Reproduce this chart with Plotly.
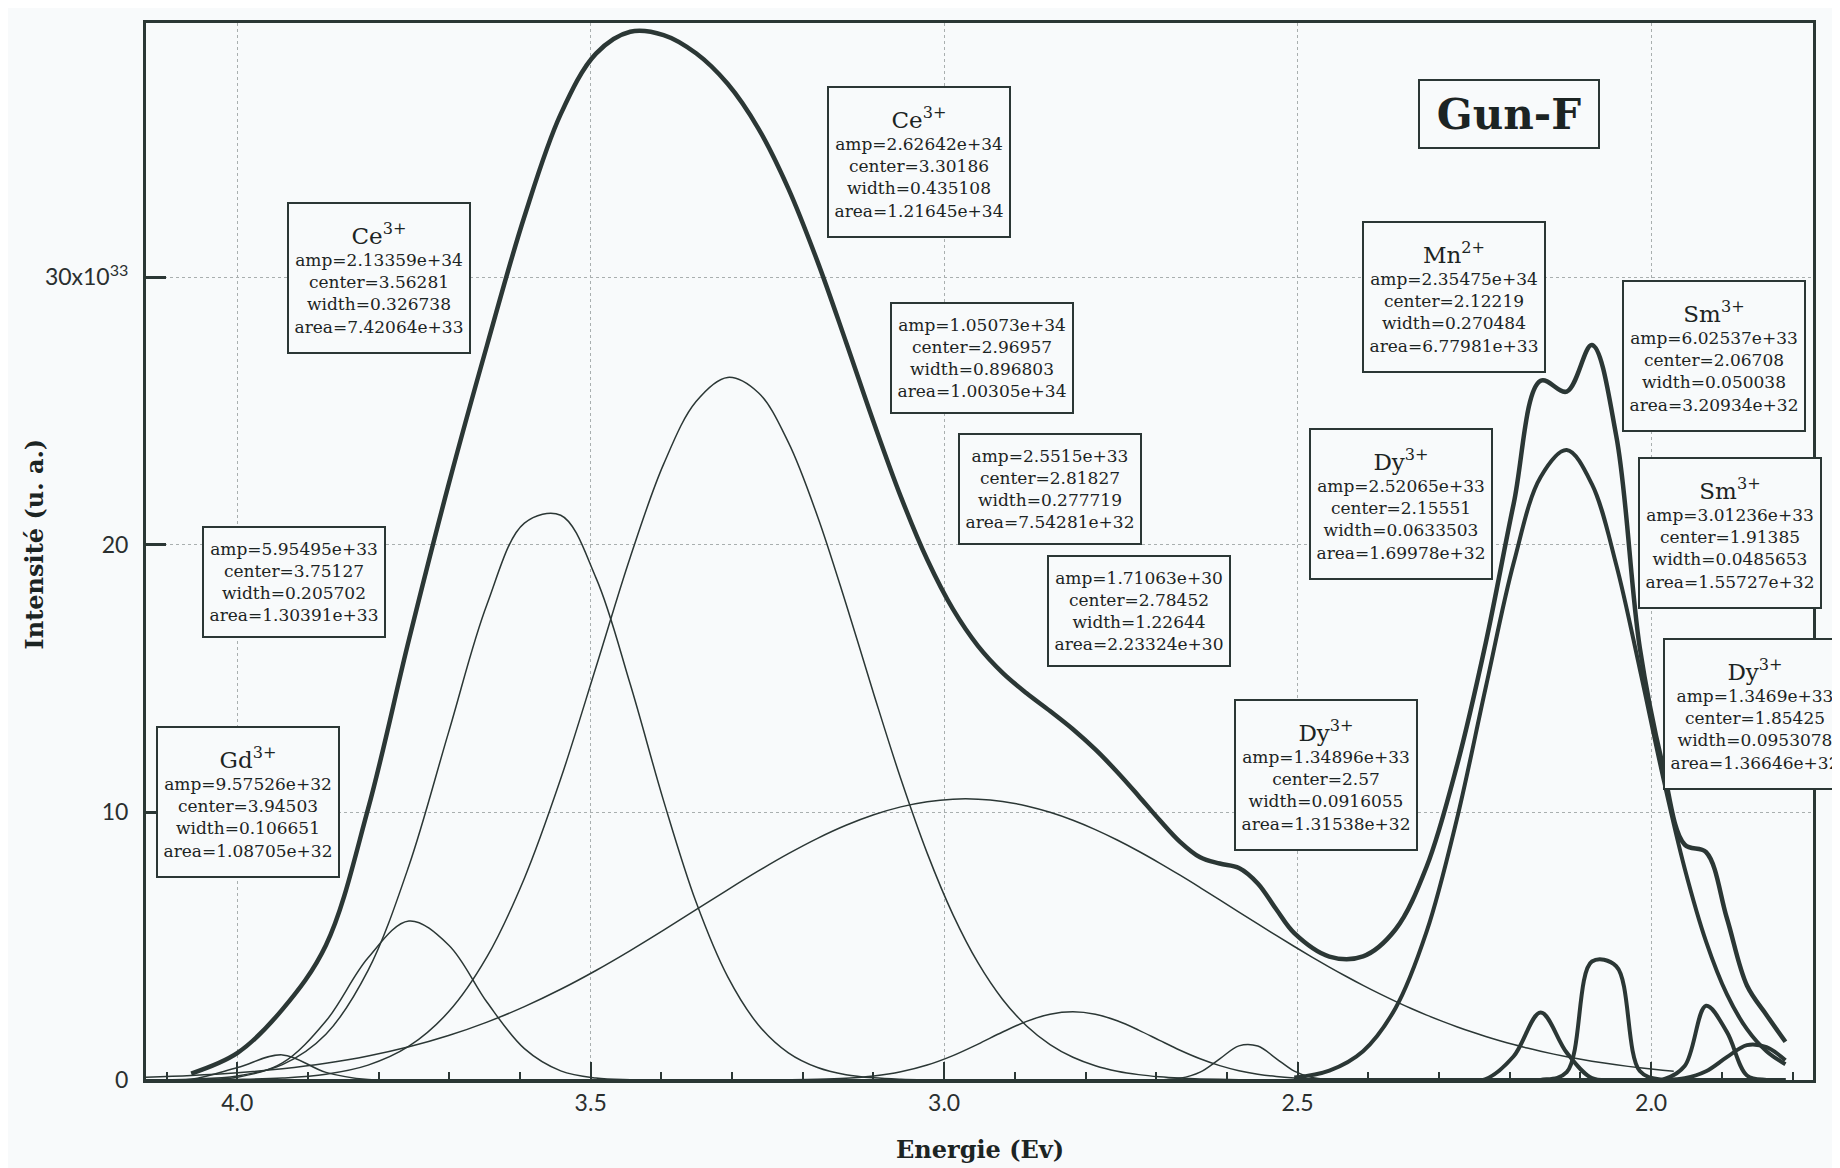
import numpy as np
import plotly.graph_objects as go

# gaussian components of the fit (width = FWHM), values as printed in the boxes
ions = ["Gd", "", "Ce", "Ce", "", "", "", "Dy", "Mn", "Dy", "Sm", "Sm", "Dy"]
charges = ["3+", "", "3+", "3+", "", "", "", "3+", "2+", "3+", "3+", "3+", "3+"]
amp = [9.57526e32, 5.95495e33, 2.13359e34, 2.62642e34, 1.05073e34, 2.5515e33, 1.71063e30,
       1.34896e33, 2.35475e34, 2.52065e33, 6.02537e33, 3.01236e33, 1.3469e33]
center = [3.94503, 3.75127, 3.56281, 3.30186, 2.96957, 2.81827, 2.78452,
          2.57, 2.12219, 2.15551, 2.06708, 1.91385, 1.85425]
width = [0.106651, 0.205702, 0.326738, 0.435108, 0.896803, 0.277719, 1.22644,
         0.0916055, 0.270484, 0.0633503, 0.050038, 0.0485653, 0.0953078]
area = [1.08705e32, 1.30391e33, 7.42064e33, 1.21645e34, 1.00305e34, 7.54281e32, 2.23324e30,
        1.31538e32, 6.77981e33, 1.69978e32, 3.20934e32, 1.55727e32, 1.36646e32]
right_fit = [False] * 8 + [True] * 5

# spectrometer sampling (nm): uv-blue part at 5 nm, red part at 10 nm
wl_left = np.arange(300, 631, 5)
wl_right = np.arange(495, 686, 10)
wl_total = np.concatenate([np.arange(305, 495, 5), wl_right])

y_ticks = [0, 1e34, 2e34, 3e34]
y_ticktext = ["0", "10", "20", "30x10<sup>33</sup>"]

INK = "#2b3735"
TXT = "#1c2423"
BG = "#f8fafb"


def gauss(e, a, c, w):
    return a * np.exp(-4 * np.log(2) * (e - c) ** 2 / w ** 2)


fig = go.Figure()

for i in range(len(amp)):
    wl = wl_right if right_fit[i] else wl_left
    e = 1239.84 / wl
    fig.add_trace(go.Scatter(x=e, y=gauss(e, amp[i], center[i], width[i]), mode="lines",
                             line=dict(color=INK, width=4 if right_fit[i] else 1.5,
                                       shape="spline", smoothing=1),
                             showlegend=False))

e_tot = 1239.84 / wl_total
total = sum(gauss(e_tot, amp[i], center[i], width[i]) for i in range(len(amp)))
fig.add_trace(go.Scatter(x=e_tot, y=total, mode="lines",
                         line=dict(color=INK, width=4.5, shape="spline", smoothing=1),
                         showlegend=False))

# box centres in paper coords, same order as the components
box_pos = [(0.0609, 0.2632), (0.0888, 0.4708), (0.1395, 0.7585), (0.4637, 0.8689),
           (0.5015, 0.6830), (0.5423, 0.5594), (0.5957, 0.4434), (0.7076, 0.2882),
           (0.7846, 0.7406), (0.7528, 0.5453), (0.9406, 0.6849), (0.9500, 0.5179),
           (0.9650, 0.3462)]

for i, (bx, by) in enumerate(box_pos):
    lines = ["amp=%.6g" % amp[i], "center=%.6g" % center[i],
             "width=%.6g" % width[i], "area=%.6g" % area[i]]
    txt = "<br>".join(lines)
    h = 108
    if ions[i]:
        txt = "<span style='font-size:23px'>%s<sup>%s</sup></span><br>" % (ions[i], charges[i]) + txt
        h = 148
    fig.add_annotation(x=bx, y=by, xref="paper", yref="paper", text=txt, showarrow=False,
                       xanchor="center", yanchor="middle", width=180, height=h,
                       align="center", valign="middle",
                       font=dict(family="DejaVu Serif", size=17, color=TXT),
                       bgcolor=BG, bordercolor=INK, borderwidth=2, borderpad=0)

fig.add_annotation(x=0.8176, y=0.9142, xref="paper", yref="paper", text="<b>Gun-F</b>",
                   showarrow=False, xanchor="center", yanchor="middle", width=178, height=66,
                   font=dict(family="DejaVu Serif", size=42, color=TXT),
                   bgcolor=BG, bordercolor=INK, borderwidth=2, borderpad=0)

fig.add_annotation(x=-0.067, y=0.507, xref="paper", yref="paper", text="<b>Intensité (u. a.)</b>",
                   textangle=-90, showarrow=False, xanchor="center", yanchor="middle",
                   font=dict(family="DejaVu Serif", size=24, color=TXT))
fig.add_annotation(x=0.5, y=-0.066, xref="paper", yref="paper", text="<b>Energie (Ev)</b>",
                   showarrow=False, xanchor="center", yanchor="middle",
                   font=dict(family="DejaVu Serif", size=24, color=TXT))

fig.update_xaxes(range=[4.129, 1.771], tickmode="linear", tick0=2.0, dtick=0.5,
                 tickformat=".1f", ticks="inside", ticklen=18, tickwidth=2, tickcolor=INK,
                 minor=dict(dtick=0.1, tick0=2.0, ticks="inside", ticklen=8, tickwidth=1.5,
                            tickcolor=INK, showgrid=False),
                 showgrid=True, gridcolor="#a9afaf", griddash="dot", gridwidth=1,
                 showline=True, linecolor=INK, linewidth=3, mirror=True, zeroline=False,
                 ticklabelstandoff=0,
                 tickfont=dict(family="Lato", size=23, color="#2a2f2f"))
fig.update_yaxes(range=[0, 3.95e34], tickvals=y_ticks, ticktext=y_ticktext,
                 ticks="inside", ticklen=20, tickwidth=2.5, tickcolor=INK,
                 showgrid=True, gridcolor="#a9afaf", griddash="dot", gridwidth=1,
                 showline=True, linecolor=INK, linewidth=3, mirror=True, zeroline=False,
                 ticklabelstandoff=10,
                 tickfont=dict(family="Lato", size=23, color="#2a2f2f"))

fig.update_layout(width=1840, height=1168, margin=dict(l=138, r=35, t=12, b=96),
                  paper_bgcolor=BG, plot_bgcolor=BG, showlegend=False)

fig.write_html("out.html")
